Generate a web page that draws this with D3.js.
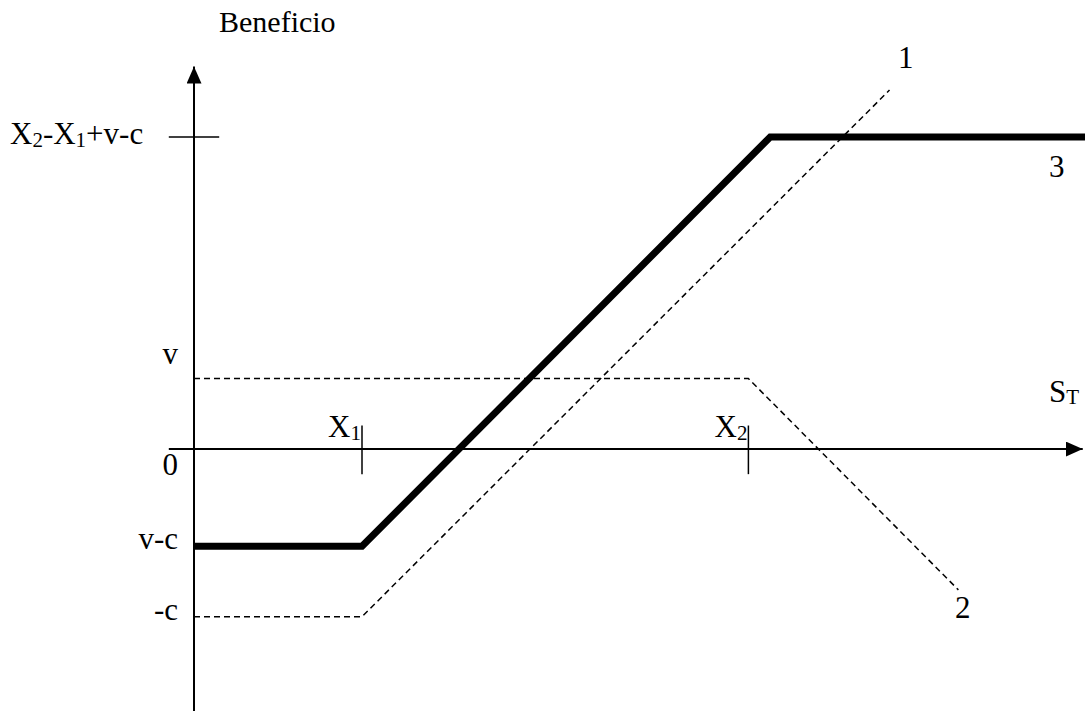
<!DOCTYPE html>
<html>
<head>
<meta charset="utf-8">
<script src="https://cdn.jsdelivr.net/npm/d3@7"></script>
<style>
  body { margin: 0; background: #fff; }
  text { font-family: "Liberation Serif", "Times New Roman", serif; fill: #000; }
</style>
</head>
<body>
<script>
// values in chart units (S_T on x, beneficio on y)
const X1 = 10, X2 = 33
const v = 4.2, c = 10.0
const topLevel = 18.6

// payoff lines: 1 and 2 dashed, 3 = combined (thick)
const line1 = [[0, -c], [X1, -c], [41.4, 21.4]]
const line2 = [[0, v], [X2, v], [45.5, -8.4]]
const line3 = [[0, v - c], [X1, v - c], [34.3, topLevel], [53.1, topLevel]]

const yTicks = [
  { value: topLevel, label: ["X", "2", "-X", "1", "+v-c"] },
  { value: v, label: ["v"] },
  { value: 0, label: ["0"] },
  { value: v - c, label: ["v-c"] },
  { value: -c, label: ["-c"] }
]
const xTicks = [
  { value: X1, name: "X", sub: "1" },
  { value: X2, name: "X", sub: "2" }
]
const lineLabels = [
  { text: "1", at: [41.9, 22.7] },
  { text: "2", at: [45.3, -10.1] },
  { text: "3", at: [50.9, 16.2] }
]

let width = 1085
let height = 711

const x = d3.scaleLinear().domain([0, 53]).range([194, 194 + 53 * 16.8])
const y = d3.scaleLinear().domain([0, topLevel]).range([449, 137])

const svg = d3.select("body").append("svg")
  .attr("width", width)
  .attr("height", height)

const defs = svg.append("defs")
defs.append("marker")
  .attr("id", "arrow")
  .attr("viewBox", "0 0 10 10")
  .attr("refX", 10).attr("refY", 5)
  .attr("markerWidth", 17).attr("markerHeight", 15)
  .attr("markerUnits", "userSpaceOnUse")
  .attr("orient", "auto")
  .attr("preserveAspectRatio", "none")
  .append("path").attr("d", "M0,0L10,5L0,10Z").attr("fill", "#000")

// axes
svg.append("line")
  .attr("x1", x(-1.5)).attr("y1", y(0))
  .attr("x2", x(52.9)).attr("y2", y(0))
  .attr("stroke", "#000").attr("stroke-width", 2)
  .attr("marker-end", "url(#arrow)")

svg.append("line")
  .attr("x1", x(0)).attr("y1", height)
  .attr("x2", x(0)).attr("y2", y(22.8))
  .attr("stroke", "#000").attr("stroke-width", 2)
  .attr("marker-end", "url(#arrow)")

// small tick at the top level
svg.append("line")
  .attr("x1", x(-1.5)).attr("x2", x(1.5))
  .attr("y1", y(topLevel)).attr("y2", y(topLevel))
  .attr("stroke", "#000").attr("stroke-width", 1.5)

// x ticks
svg.selectAll(".xtick").data(xTicks).enter().append("line")
  .attr("class", "xtick")
  .attr("x1", d => x(d.value)).attr("x2", d => x(d.value))
  .attr("y1", y(1.4)).attr("y2", y(-1.5))
  .attr("stroke", "#000").attr("stroke-width", 1.5)

const xl = svg.selectAll(".xlab").data(xTicks).enter().append("text")
  .attr("class", "xlab")
  .attr("x", d => x(d.value) - 1)
  .attr("y", y(0.7))
  .attr("text-anchor", "end")
  .attr("font-size", 31)
xl.append("tspan").text(d => d.name)
xl.append("tspan").attr("font-size", 21).attr("dy", 3).text(d => d.sub)

// y labels
const yl = svg.selectAll(".ylab").data(yTicks).enter().append("text")
  .attr("class", "ylab")
  .attr("x", d => d.value === topLevel ? 10 : 178)
  .attr("y", d => y(d.value) + (d.value === topLevel ? 7 : d.value === v ? -15 : d.value === 0 ? 26 : 3))
  .attr("text-anchor", d => d.value === topLevel ? "start" : "end")
  .attr("font-size", 31)
yl.each(function (d) {
  const t = d3.select(this)
  d.label.forEach((s, i) => {
    const sub = d.label.length > 1 && i % 2 === 1
    t.append("tspan")
      .attr("font-size", sub ? 21 : 31)
      .attr("dy", sub ? 3 : (i > 0 ? -3 : 0))
      .text(s)
  })
})

// S_T label
const st = svg.append("text").attr("x", x(50.9)).attr("y", y(2.8)).attr("font-size", 31)
st.append("tspan").text("S")
st.append("tspan").attr("font-size", 21).attr("dy", 2).text("T")

svg.append("text")
  .attr("x", 219).attr("y", 32)
  .attr("font-size", 30)
  .text("Beneficio")

const line = d3.line().x(d => x(d[0])).y(d => y(d[1]))

svg.append("path").datum(line1).attr("d", line)
  .attr("fill", "none").attr("stroke", "#000")
  .attr("stroke-width", 1.5).attr("stroke-dasharray", "6,4")

svg.append("path").datum(line2).attr("d", line)
  .attr("fill", "none").attr("stroke", "#000")
  .attr("stroke-width", 1.5).attr("stroke-dasharray", "6,4")

svg.append("path").datum(line3).attr("d", line)
  .attr("fill", "none").attr("stroke", "#000")
  .attr("stroke-width", 7).attr("stroke-linejoin", "miter")

svg.selectAll(".llab").data(lineLabels).enter().append("text")
  .attr("x", d => x(d.at[0])).attr("y", d => y(d.at[1]))
  .attr("font-size", 31)
  .text(d => d.text)
</script>
</body>
</html>
